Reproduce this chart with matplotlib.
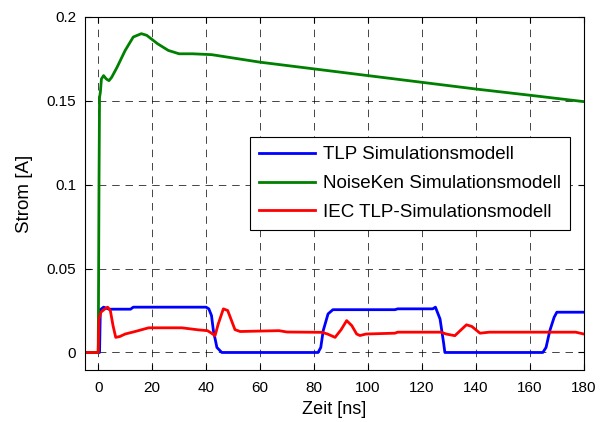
import matplotlib.pyplot as plt
import numpy as np

plt.rcParams['font.family'] = ['Liberation Sans', 'DejaVu Sans']

# time axis [ns] and currents [A]
t_blue = [-5, 0.5, 0.8, 2, 4, 12, 13, 40, 41, 42, 42.7, 44, 45.8, 81.5, 82.5, 83.4,
          85.2, 87, 110, 111, 124, 125, 126.7, 128, 128.5, 164.8, 166, 167.4, 169, 170, 180]
i_blue = [0, 0, 0.0255, 0.027, 0.0258, 0.0258, 0.027, 0.027, 0.026, 0.022, 0.013, 0.003,
          0, 0, 0.003, 0.013, 0.023, 0.0255, 0.0255, 0.026, 0.026, 0.027, 0.02, 0.006, 0,
          0, 0.003, 0.013, 0.021, 0.024, 0.024]

t_green = [-5, 0, 0.1, 0.3, 0.5, 0.8, 1.2, 2, 3, 4, 5, 7, 10, 13, 16, 18, 22, 26, 30,
           35, 42, 60, 80, 100, 120, 140, 160, 180]
i_green = [0, 0, 0.025, 0.1, 0.152, 0.155, 0.163, 0.165, 0.163, 0.162, 0.164, 0.170,
           0.180, 0.188, 0.190, 0.189, 0.184, 0.180, 0.178, 0.178, 0.1775, 0.173,
           0.169, 0.165, 0.161, 0.157, 0.1533, 0.1495]

t_red = [-5, 0, 0.3, 1, 2.5, 3.5, 4.5, 5.5, 6.5, 8, 10, 13.7, 18.7, 31, 37, 40.5, 42,
         43.3, 44.5, 46.4, 48, 50.7, 52.6, 67, 70, 83, 85, 87.8, 90, 92.1, 94, 95.8, 97,
         99.3, 110, 111, 127, 129, 132.2, 134.5, 136.5, 138.5, 141.5, 145, 177, 180]
i_red = [0, 0, 0.02, 0.024, 0.026, 0.027, 0.025, 0.016, 0.009, 0.0095, 0.011, 0.0125,
         0.0147, 0.0147, 0.0135, 0.013, 0.0115, 0.010, 0.017, 0.026, 0.025, 0.0136,
         0.0125, 0.013, 0.0122, 0.012, 0.011, 0.009, 0.0135, 0.019, 0.016, 0.011, 0.0101,
         0.011, 0.0115, 0.0121, 0.0121, 0.011, 0.010, 0.0135, 0.0165, 0.0155, 0.0115,
         0.0121, 0.0121, 0.011]

labels = ['TLP Simulationsmodell', 'NoiseKen Simulationsmodell', 'IEC TLP-Simulationsmodell']
xticks = [0, 20, 40, 60, 80, 100, 120, 140, 160, 180]
yticks = [0, 0.05, 0.1, 0.15, 0.2]
ytick_labels = ['0', '0.05', '0.1', '0.15', '0.2']

fig = plt.figure(figsize=(6.05, 4.22), dpi=100)
ax = fig.add_axes([0.14, 0.123, 0.825, 0.837])

ax.plot(t_blue, i_blue, color=(0, 0, 1), lw=2, label=labels[0])
ax.plot(t_green, i_green, color=(0, 0.5, 0), lw=2, label=labels[1])
ax.plot(t_red, i_red, color=(1, 0, 0), lw=2, label=labels[2])

ax.set_xlim(-5, 180)
ax.set_ylim(-0.0105, 0.2)
ax.set_xticks(xticks)
ax.set_yticks(yticks)
ax.set_yticklabels(ytick_labels)
ax.tick_params(direction='in', top=True, right=True, labelsize=11, length=4)
ax.tick_params(axis='x', pad=8)
ax.tick_params(axis='y', pad=6)
ax.grid(True, color='k', linestyle=(0, (9, 7)), linewidth=0.6, alpha=0.85)
for s in ax.spines.values():
    s.set_linewidth(0.8)

ax.set_xlabel('Zeit [ns]', fontsize=13, labelpad=4)
ax.set_ylabel('Strom [A]', fontsize=13.5, labelpad=10)

leg = ax.legend(loc='upper right', bbox_to_anchor=(0.9725, 0.66), fontsize=13.5,
                fancybox=False, edgecolor='k', framealpha=1, handlelength=3.0,
                handletextpad=0.4, borderpad=0.5, labelspacing=0.62,
                borderaxespad=0)
leg.get_frame().set_linewidth(0.8)

fig.savefig('out.png', dpi=100)
